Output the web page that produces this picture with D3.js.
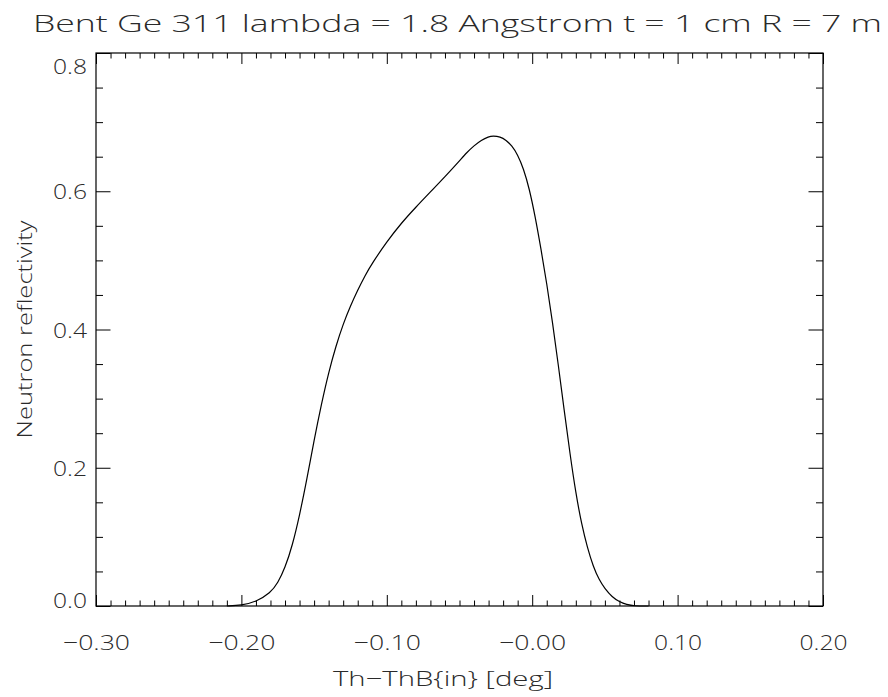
<!DOCTYPE html>
<html>
<head>
<meta charset="utf-8">
<script src="https://cdn.jsdelivr.net/npm/d3@7"></script>
<style>
  html, body { margin: 0; padding: 0; background: #fff; }
  svg { display: block; }
  text { font-family: "Open Sans", Roboto, "DejaVu Sans", sans-serif; font-weight: 300; fill: #2a2a2a; }
</style>
</head>
<body>
<svg id="chart" width="888" height="697"></svg>
<script>
// ---- data ----
const titleText = "Bent Ge 311 lambda = 1.8 Angstrom t = 1 cm R = 7 m";
const xTitle = "Th\u2212ThB{in} [deg]";
const yTitle = "Neutron reflectivity";

const xMajorTicks = [-0.30, -0.20, -0.10, 0.00, 0.10, 0.20];
const xTickLabels = ["\u22120.30", "\u22120.20", "\u22120.10", "\u22120.00", "0.10", "0.20"];
const yMajorTicks = [0.0, 0.2, 0.4, 0.6, 0.8];
const yTickLabels = ["0.0", "0.2", "0.4", "0.6", "0.8"];

const thetaValues = [
  -0.210, -0.200, -0.190, -0.180, -0.175, -0.170, -0.165, -0.160, -0.155, -0.150,
  -0.145, -0.140, -0.135, -0.130, -0.125, -0.120, -0.115, -0.110, -0.100, -0.090,
  -0.080, -0.070, -0.060, -0.050, -0.045, -0.040, -0.035, -0.030, -0.027, -0.022,
  -0.018, -0.014, -0.010, -0.006, -0.002, 0.002, 0.006, 0.010, 0.014, 0.018,
  0.022, 0.026, 0.030, 0.034, 0.038, 0.042, 0.046, 0.050, 0.055, 0.060,
  0.065, 0.070, 0.080
];
const reflectivity = [
  0.000, 0.001, 0.006, 0.019, 0.033, 0.055, 0.087, 0.131, 0.183, 0.240,
  0.292, 0.338, 0.376, 0.408, 0.434, 0.457, 0.478, 0.496, 0.527, 0.554,
  0.577, 0.599, 0.621, 0.644, 0.656, 0.666, 0.674, 0.679, 0.680, 0.679,
  0.674, 0.666, 0.653, 0.633, 0.604, 0.564, 0.517, 0.467, 0.410, 0.348,
  0.283, 0.220, 0.163, 0.118, 0.084, 0.057, 0.038, 0.025, 0.013, 0.006,
  0.002, 0.000, 0.000
];

// ---- layout ----
const L = 96, R = 823, T = 53, B = 606;
const svg = d3.select("#chart");

const x = d3.scaleLinear().domain([-0.30, 0.20]).range([L, R]);
const y = d3.scaleLinear().domain([0, 0.8]).range([B, T]);

const xMinor = d3.range(-30, 21).map(v => v / 100).filter(v => !xMajorTicks.some(m => Math.abs(m - v) < 1e-9));
const yMinor = d3.range(0, 17).map(v => v * 0.05).filter(v => !yMajorTicks.some(m => Math.abs(m - v) < 1e-9));

function styleAxis(g) {
  g.select(".domain").remove();
  g.selectAll(".tick line").attr("stroke", "#000").attr("stroke-width", 1);
}

// bottom major with labels
const gxb = svg.append("g").attr("transform", `translate(0,${B})`)
  .call(d3.axisBottom(x).tickValues(xMajorTicks).tickSizeInner(-11).tickSizeOuter(0)
    .tickFormat((d, i) => xTickLabels[i]));
styleAxis(gxb);
gxb.selectAll(".tick text")
  .attr("y", 44).attr("dy", null)
  .style("font-size", "21px").style("font-family", null).attr("fill", "#2a2a2a")
  .each(function(d, i) {
    const w = xTickLabels[i].startsWith("\u2212") ? 67 : 48;
    d3.select(this).attr("textLength", w).attr("lengthAdjust", "spacingAndGlyphs");
  });
// bottom minor
const gxbm = svg.append("g").attr("transform", `translate(0,${B})`)
  .call(d3.axisBottom(x).tickValues(xMinor).tickSizeInner(-5.5).tickSizeOuter(0).tickFormat(""));
styleAxis(gxbm);
// top major/minor
const gxt = svg.append("g").attr("transform", `translate(0,${T})`)
  .call(d3.axisTop(x).tickValues(xMajorTicks).tickSizeInner(-11).tickSizeOuter(0).tickFormat(""));
styleAxis(gxt);
const gxtm = svg.append("g").attr("transform", `translate(0,${T})`)
  .call(d3.axisTop(x).tickValues(xMinor).tickSizeInner(-5.5).tickSizeOuter(0).tickFormat(""));
styleAxis(gxtm);

// left major with labels
const gyl = svg.append("g").attr("transform", `translate(${L},0)`)
  .call(d3.axisLeft(y).tickValues(yMajorTicks).tickSizeInner(-14.5).tickSizeOuter(0)
    .tickFormat((d, i) => yTickLabels[i]));
styleAxis(gyl);
gyl.selectAll(".tick text")
  .attr("x", -9).attr("dy", null)
  .attr("y", d => {
    const py = y(d);
    const c = Math.max(T + 12.5, Math.min(B - 6.5, py));
    return c - py + 7.5;
  })
  .style("font-size", "21px").style("font-family", null).attr("fill", "#2a2a2a")
  .attr("textLength", 34).attr("lengthAdjust", "spacingAndGlyphs");
const gylm = svg.append("g").attr("transform", `translate(${L},0)`)
  .call(d3.axisLeft(y).tickValues(yMinor).tickSizeInner(-7).tickSizeOuter(0).tickFormat(""));
styleAxis(gylm);
// right
const gyr = svg.append("g").attr("transform", `translate(${R},0)`)
  .call(d3.axisRight(y).tickValues(yMajorTicks).tickSizeInner(-14.5).tickSizeOuter(0).tickFormat(""));
styleAxis(gyr);
const gyrm = svg.append("g").attr("transform", `translate(${R},0)`)
  .call(d3.axisRight(y).tickValues(yMinor).tickSizeInner(-7).tickSizeOuter(0).tickFormat(""));
styleAxis(gyrm);

// frame
svg.append("rect")
  .attr("x", L).attr("y", T).attr("width", R - L).attr("height", B - T)
  .attr("fill", "none").attr("stroke", "#000").attr("stroke-width", 1.2);

// curve
const pts = thetaValues.map((t, i) => [t, reflectivity[i]]);
svg.append("path")
  .datum(pts)
  .attr("fill", "none")
  .attr("stroke", "#000")
  .attr("stroke-width", 1.2)
  .attr("d", d3.line().x(d => x(d[0])).y(d => y(d[1])).curve(d3.curveBasis));

// title
svg.append("text")
  .attr("x", 33).attr("y", 32)
  .attr("textLength", 849).attr("lengthAdjust", "spacingAndGlyphs")
  .style("font-size", "23.5px")
  .text(titleText);

// x title
svg.append("text")
  .attr("x", 333).attr("y", 686)
  .attr("textLength", 220).attr("lengthAdjust", "spacingAndGlyphs")
  .style("font-size", "21px")
  .text(xTitle);

// y title
svg.append("text")
  .attr("transform", `translate(32,${(T + B) / 2}) rotate(-90)`)
  .attr("text-anchor", "middle")
  .attr("textLength", 218).attr("lengthAdjust", "spacingAndGlyphs")
  .style("font-size", "20px")
  .text(yTitle);
</script>
</body>
</html>
